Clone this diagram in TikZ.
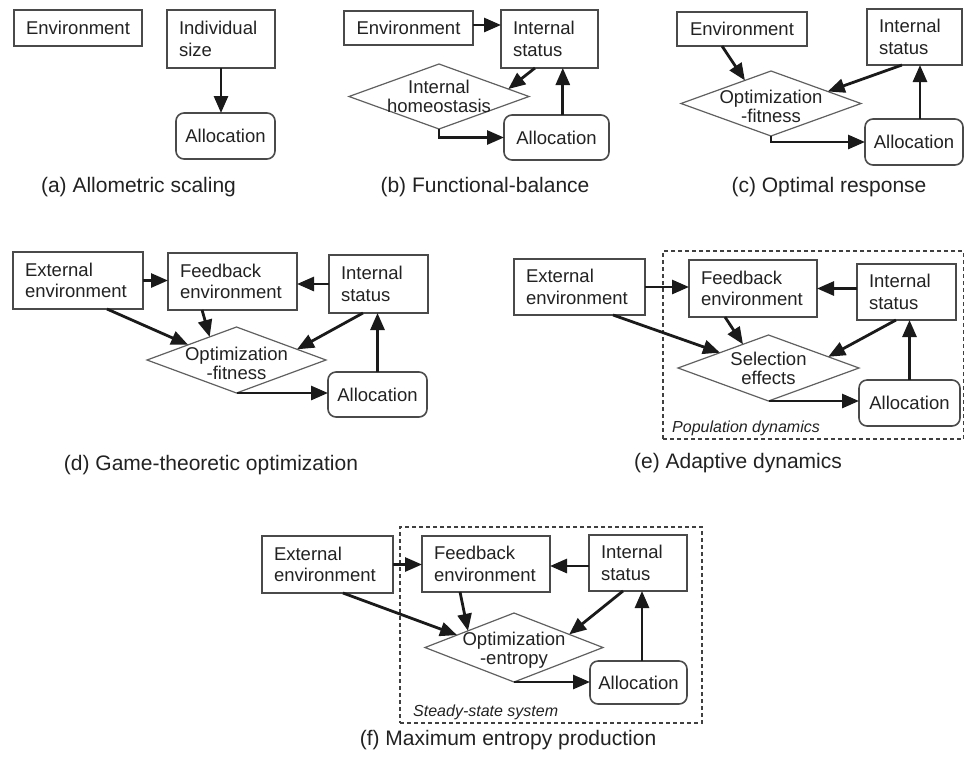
\documentclass[tikz,border=0pt]{standalone}
\usepackage{fontspec}
\setmainfont{Liberation Sans}
\usetikzlibrary{shapes.geometric,arrows.meta,calc}
\definecolor{txtc}{HTML}{222222}
\definecolor{boxc}{HTML}{4A4A4A}
\definecolor{diac}{HTML}{606060}
\definecolor{arrc}{HTML}{1A1A1A}
\definecolor{dashc}{HTML}{404040}
\newcommand\myBody{\fontsize{18.5pt}{21.5pt}\selectfont}
\newcommand\myDia{\fontsize{18.5pt}{19pt}\selectfont}
\newcommand\myCap{\fontsize{21pt}{25pt}\selectfont}
\newcommand\myLab{\fontsize{16pt}{19pt}\selectfont\itshape}
\tikzset{
  bx/.style={draw=boxc, line width=1.6pt, rectangle, inner xsep=2pt, inner ysep=0pt, outer sep=0pt, font=\myBody, text=txtc},
  mbx/.style={bx, inner xsep=12pt, align=left},
  rbx/.style={bx, rounded corners=8pt},
  dia/.style={draw=diac, line width=1.2pt, diamond, inner sep=0pt, outer sep=0pt},
  dtxt/.style={font=\myDia, align=center, text=txtc, inner sep=0pt},
  arr/.style={draw=arrc, line width=2.8pt, -{Triangle[length=17pt,width=14pt]}},
  dbox/.style={draw=dashc, line width=1.4pt, dash pattern=on 4pt off 3pt, inner sep=0pt, outer sep=0pt},
  lab/.style={font=\myLab, text=txtc, anchor=west, inner sep=0pt},
  captxt/.style={font=\myCap, text=txtc, inner sep=0pt},
}
\begin{document}
\begin{tikzpicture}[x=1pt,y=-1pt]
\useasboundingbox[fill=white] (0,0) rectangle (965,756);

% ---------------- (a)
\node[bx, minimum width=128pt, minimum height=36pt] (envA) at (78,28) {Environment};
\node[mbx, text width=84pt, minimum height=58pt] (sizeA) at (221,39) {Individual\\size};
\node[rbx, minimum width=99pt, minimum height=46pt] (allocA) at (225.5,136) {Allocation};
\draw[arr] (sizeA.south) -- (sizeA.south |- allocA.north);
\node[captxt] (capA) at (138.5,187) {(a) Allometric scaling};

% ---------------- (b)
\node[bx, minimum width=129pt, minimum height=34pt] (envB) at (408.5,28) {Environment};
\node[mbx, text width=73pt, minimum height=58pt] (statB) at (549.5,39) {Internal\\status};
\node[dia, minimum width=180pt, minimum height=65pt] (diaB) at (439,96.5) {};
\node[dtxt] (diaBt) at (diaB.center) {Internal\\homeostasis};
\node[rbx, minimum width=105pt, minimum height=45pt] (allocB) at (556.5,137.5) {Allocation};
\draw[arr] ([yshift=3pt]envB.east) -- ([yshift=3pt]envB.east -| statB.west);
\draw[arr] ($(statB.south west)!0.35!(statB.south east)$) -- ($(diaB.north)!0.77!(diaB.east)$);
\draw[arr] (diaB.south) |- (allocB.west);
\coordinate (bUp) at ($(allocB.north west)!0.56!(allocB.north east)$);
\draw[arr] (bUp) -- (bUp |- statB.south);
\node[captxt] (capB) at (485,187) {(b) Functional-balance};

% ---------------- (c)
\node[bx, minimum width=130pt, minimum height=34pt] (envC) at (742,29) {Environment};
\node[mbx, text width=71pt, minimum height=56pt] (statC) at (914.5,37) {Internal\\status};
\node[dia, minimum width=180pt, minimum height=65pt] (diaC) at (771,103.5) {};
\node[dtxt] (diaCt) at ([yshift=-3pt]diaC.center) {Optimization\\-fitness};
\node[rbx, minimum width=98pt, minimum height=46pt] (allocC) at (914,142) {Allocation};
\draw[arr] ($(envC.south west)!0.346!(envC.south east)$) -- ($(diaC.west)!0.71!(diaC.north)$);
\draw[arr] ($(statC.south west)!0.368!(statC.south east)$) -- ($(diaC.north)!0.63!(diaC.east)$);
\draw[arr] (diaC.south) |- (allocC.west);
\coordinate (cUp) at ($(allocC.north west)!0.561!(allocC.north east)$);
\draw[arr] (cUp) -- (cUp |- statC.south);
\node[captxt] (capC) at (829,187) {(c) Optimal response};

% ---------------- (d)
\node[mbx, text width=106pt, minimum height=57pt] (extD) at (78,280.5) {External\\environment};
\node[mbx, text width=105pt, minimum height=57pt] (fbD) at (232.5,281.5) {Feedback\\environment};
\node[mbx, text width=75pt, minimum height=58pt] (statD) at (378.5,284) {Internal\\status};
\node[dia, minimum width=179pt, minimum height=66pt] (diaD) at (236.5,360) {};
\node[dtxt] (diaDt) at ([yshift=-3pt]diaD.center) {Optimization\\-fitness};
\node[rbx, minimum width=99pt, minimum height=45pt] (allocD) at (377.5,394.5) {Allocation};
\draw[arr] (extD.east) -- (extD.east -| fbD.west);
\draw[arr] (statD.west) -- (statD.west -| fbD.east);
\draw[arr] ($(extD.south west)!0.723!(extD.south east)$) -- ($(diaD.west)!0.46!(diaD.north)$);
\draw[arr] ($(fbD.south west)!0.264!(fbD.south east)$) -- ($(diaD.west)!0.70!(diaD.north)$);
\draw[arr] ($(statD.south west)!0.343!(statD.south east)$) -- ($(diaD.north)!0.676!(diaD.east)$);
\draw[arr] (diaD.south) -- (diaD.south -| allocD.west);
\draw[arr] (allocD.north) -- (allocD.north |- statD.south);
\node[captxt] (capD) at (211,465) {(d) Game-theoretic optimization};

% ---------------- (e)
\node[dbox, minimum width=300.5pt, minimum height=188pt] (popE) at (813.25,345) {};
\node[lab] (popL) at ([xshift=9pt,yshift=11pt]popE.south west) {Population dynamics};
\node[mbx, text width=107pt, minimum height=56pt] (extE) at (579.5,287) {External\\environment};
\node[mbx, text width=104pt, minimum height=57pt] (fbE) at (753,288.5) {Feedback\\environment};
\node[mbx, text width=75pt, minimum height=56pt] (statE) at (906.5,292) {Internal\\status};
\node[dia, minimum width=181pt, minimum height=66pt] (diaE) at (768.5,368) {};
\node[dtxt] (diaEt) at (diaE.center) {Selection\\effects};
\node[rbx, minimum width=101pt, minimum height=46pt] (allocE) at (909.5,403) {Allocation};
\draw[arr] (extE.east) -- (extE.east -| fbE.west);
\draw[arr] (fbE.east -| statE.west) -- (fbE.east);
\draw[arr] ($(extE.south west)!0.756!(extE.south east)$) -- ($(diaE.west)!0.464!(diaE.north)$);
\draw[arr] ($(fbE.south west)!0.281!(fbE.south east)$) -- ($(diaE.west)!0.718!(diaE.north)$);
\draw[arr] ($(statE.south west)!0.394!(statE.south east)$) -- ($(diaE.north)!0.66!(diaE.east)$);
\draw[arr] (diaE.south) -- (diaE.south -| allocE.west);
\draw[arr] (allocE.north) -- (allocE.north |- statE.south);
\node[captxt] (capE) at (738,463) {(e) Adaptive dynamics};

% ---------------- (f)
\node[dbox, minimum width=302pt, minimum height=196pt] (dashF) at (551,625) {};
\node[lab] (steadyL) at ([xshift=13pt,yshift=11pt]dashF.south west) {Steady-state system};
\node[mbx, text width=107pt, minimum height=57pt] (extF) at (327.5,564.5) {External\\environment};
\node[mbx, text width=104pt, minimum height=56pt] (fbF) at (486,564) {Feedback\\environment};
\node[mbx, text width=74pt, minimum height=56pt] (statF) at (638,563) {Internal\\status};
\node[dia, minimum width=178pt, minimum height=69pt] (diaF) at (514,647.5) {};
\node[dtxt] (diaFt) at ([yshift=-3pt]diaF.center) {Optimization\\-entropy};
\node[rbx, minimum width=97pt, minimum height=43pt] (allocF) at (638.5,682.5) {Allocation};
\draw[arr] (extF.east) -- (extF.east -| fbF.west);
\draw[arr] ([yshift=-3pt]statF.west) -- ([yshift=-3pt]statF.west -| fbF.east);
\draw[arr] ($(extF.south west)!0.618!(extF.south east)$) -- ($(diaF.west)!0.36!(diaF.north)$);
\draw[arr] ($(fbF.south west)!0.297!(fbF.south east)$) -- ($(diaF.west)!0.483!(diaF.north)$);
\draw[arr] ($(statF.south west)!0.347!(statF.south east)$) -- ($(diaF.north)!0.62!(diaF.east)$);
\draw[arr] (diaF.south) -- (diaF.south -| allocF.west);
\coordinate (fUp) at ($(allocF.north west)!0.536!(allocF.north east)$);
\draw[arr] (fUp) -- (fUp |- statF.south);
\node[captxt] (capF) at (508,740) {(f) Maximum entropy production};
\end{tikzpicture}
\end{document}
